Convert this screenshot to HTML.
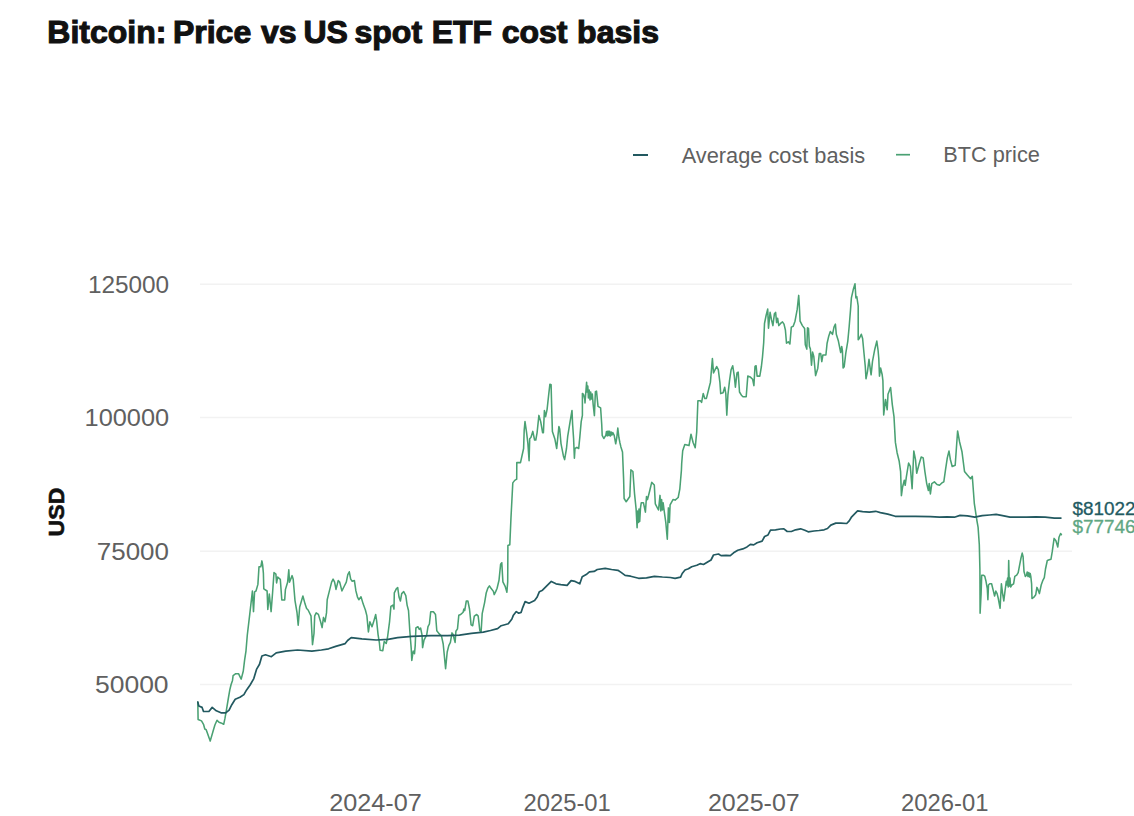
<!DOCTYPE html>
<html><head><meta charset="utf-8"><title>Bitcoin: Price vs US spot ETF cost basis</title>
<style>
html,body{margin:0;padding:0;background:#fff;}
body{width:1134px;height:816px;overflow:hidden;position:relative;font-family:"Liberation Sans",Arial,sans-serif;}
svg{position:absolute;left:0;top:0;display:block;}
text{font-family:"Liberation Sans",Arial,sans-serif;}
</style></head><body>
<svg width="1134" height="816" viewBox="0 0 1134 816">
<rect x="0" y="0" width="1134" height="816" fill="#ffffff"/>
<g font-size="32" font-weight="bold" fill="#111111" stroke="#111111" stroke-width="1.1"><text x="47.3" y="42.9">Bitcoin:</text><text x="172.9" y="42.9">Price</text><text x="261.0" y="42.9">vs</text><text x="303.4" y="42.9">US</text><text x="354.5" y="42.9">spot</text><text x="431.7" y="42.9">ETF</text><text x="501.7" y="42.9">cost</text><text x="577.1" y="42.9">basis</text></g>
<g stroke="#f2f2f2" stroke-width="1.5">
<line x1="200" y1="284.2" x2="1072" y2="284.2"/>
<line x1="200" y1="417.4" x2="1072" y2="417.4"/>
<line x1="200" y1="551.3" x2="1072" y2="551.3"/>
<line x1="200" y1="684.5" x2="1072" y2="684.5"/>
</g>
<text x="87.9" y="293.0" font-size="23.5" textLength="81.28" lengthAdjust="spacingAndGlyphs" fill="#606060">125000</text>
<text x="84.6" y="426.0" font-size="23.5" textLength="84.55" lengthAdjust="spacingAndGlyphs" fill="#606060">100000</text>
<text x="96.8" y="560.0" font-size="23.5" textLength="72.1" lengthAdjust="spacingAndGlyphs" fill="#606060">75000</text>
<text x="94.9" y="693.0" font-size="23.5" textLength="73.74" lengthAdjust="spacingAndGlyphs" fill="#606060">50000</text>
<text x="329.2" y="810.8" font-size="24.2" textLength="92.66" lengthAdjust="spacingAndGlyphs" fill="#606060">2024-07</text>
<text x="523.5" y="810.8" font-size="24.2" textLength="87.36" lengthAdjust="spacingAndGlyphs" fill="#606060">2025-01</text>
<text x="707.9" y="810.8" font-size="24.2" textLength="91.85" lengthAdjust="spacingAndGlyphs" fill="#606060">2025-07</text>
<text x="901.1" y="810.8" font-size="24.2" textLength="87.36" lengthAdjust="spacingAndGlyphs" fill="#606060">2026-01</text>
<text transform="translate(64.0,536.4) rotate(-90)" x="0" y="0" font-size="22.3" font-weight="bold" textLength="48.72" lengthAdjust="spacingAndGlyphs" fill="#111111" stroke="#111111" stroke-width="0.6">USD</text>
<line x1="633" y1="155" x2="648" y2="155" stroke="#225960" stroke-width="2"/>
<text x="681.7" y="162.5" font-size="22" textLength="183.48" lengthAdjust="spacingAndGlyphs" fill="#606060">Average cost basis</text>
<line x1="896" y1="154.7" x2="910" y2="154.7" stroke="#4aa173" stroke-width="1.7"/>
<text x="943.3" y="162.3" font-size="22" textLength="96.58" lengthAdjust="spacingAndGlyphs" fill="#606060">BTC price</text>
<path d="M197.8,702.0 L198.1,719.5 L201.5,720.9 L203.5,724.3 L204.8,729.0 L206.2,729.7 L210.2,741.1 L212.9,731.7 L214.9,725.0 L217.0,720.2 L219.0,722.2 L221.0,722.9 L223.7,724.3 L225.0,718.2 L226.4,710.1 L228.4,698.0 L229.8,689.9 L231.1,684.5 L232.5,680.4 L233.1,675.7 L235.8,673.7 L238.5,673.7 L241.2,679.1 L243.3,671.0 L244.6,660.2 L246.0,650.8 L247.3,635.0 L249.8,613.8 L252.4,591.0 L253.5,611.6 L254.6,591.8 L256.0,591.0 L257.9,584.4 L259.0,566.8 L260.8,566.8 L261.9,560.9 L262.6,564.6 L263.4,573.4 L263.8,588.8 L267.1,591.0 L267.8,609.4 L269.3,594.0 L271.1,611.6 L272.6,592.5 L274.0,572.6 L275.9,574.1 L276.6,582.9 L277.7,577.1 L280.3,579.3 L281.8,599.9 L284.7,599.9 L285.4,589.6 L287.6,582.2 L288.8,569.7 L289.5,582.2 L292.1,575.6 L293.2,579.3 L295.0,600.6 L297.0,612.5 L298.2,625.3 L299.7,607.0 L302.9,596.0 L305.1,604.1 L306.6,608.5 L308.1,610.0 L311.0,615.9 L312.5,644.6 L314.0,633.5 L314.7,615.9 L316.2,612.9 L318.4,614.4 L320.6,621.8 L322.1,627.6 L323.5,617.4 L325.0,621.8 L326.5,612.9 L327.2,599.7 L329.4,590.9 L331.6,582.1 L333.1,579.1 L334.6,582.1 L336.0,589.4 L338.2,580.6 L339.7,582.1 L341.9,590.9 L344.1,586.5 L346.3,582.1 L347.8,574.7 L349.3,571.8 L350.7,579.1 L352.2,581.3 L354.4,580.6 L355.9,590.9 L357.4,596.8 L358.8,599.7 L361.0,596.8 L363.2,604.1 L365.4,610.0 L366.9,615.9 L368.4,632.0 L369.9,621.8 L372.0,626.7 L373.4,622.6 L375.7,614.5 L376.7,621.3 L378.1,634.8 L379.4,642.9 L380.1,650.3 L382.8,650.7 L384.2,641.5 L386.2,643.5 L387.5,637.5 L389.6,621.3 L390.9,606.4 L392.9,605.1 L394.0,609.1 L394.3,592.9 L396.3,588.9 L397.7,587.5 L399.0,597.0 L400.4,601.0 L401.7,593.6 L403.7,591.6 L405.8,595.6 L407.1,605.1 L408.5,610.5 L409.8,630.7 L411.2,648.3 L411.8,660.4 L413.2,651.0 L414.5,653.7 L415.2,645.6 L415.9,628.0 L417.9,626.7 L419.3,629.4 L420.6,628.0 L422.0,634.8 L422.6,647.6 L424.0,640.2 L426.7,634.8 L428.0,626.7 L429.4,624.0 L430.7,611.8 L433.4,611.8 L435.5,614.5 L436.8,630.7 L438.8,633.4 L441.5,636.1 L443.2,644.0 L445.6,668.7 L447.2,652.0 L448.8,645.6 L450.4,642.4 L452.0,632.9 L453.1,634.5 L454.3,639.2 L455.1,642.4 L455.9,631.3 L457.5,628.9 L458.8,615.3 L460.7,614.5 L463.1,612.2 L463.9,609.0 L464.7,610.6 L466.3,601.0 L467.9,601.0 L469.5,609.0 L471.1,624.9 L472.7,625.7 L474.3,616.1 L476.7,614.5 L478.2,616.1 L479.8,630.5 L481.1,632.1 L482.2,613.7 L484.6,602.6 L486.2,593.0 L487.8,588.2 L489.4,585.9 L491.0,588.2 L493.4,591.4 L494.2,594.6 L495.8,591.4 L497.1,588.2 L499.0,580.3 L500.6,564.3 L501.8,562.7 L502.9,581.9 L505.3,586.7 L506.9,592.2 L507.7,581.9 L507.9,545.5 L509.8,544.7 L511.0,517.2 L512.8,482.9 L514.7,480.4 L516.7,479.2 L516.8,462.6 L520.5,462.6 L523.6,448.5 L524.2,430.1 L525.0,421.6 L526.6,432.6 L527.9,443.6 L529.1,460.8 L529.7,438.7 L530.9,437.5 L532.8,431.4 L534.6,440.0 L535.8,440.0 L537.1,432.6 L538.9,415.4 L540.7,421.6 L542.6,432.6 L543.4,432.6 L544.4,410.5 L545.6,416.7 L547.1,409.3 L548.7,394.6 L549.9,384.2 L551.1,384.8 L551.8,411.8 L552.4,431.4 L554.8,438.7 L556.7,448.5 L557.9,436.3 L558.9,426.5 L559.7,428.9 L561.0,443.6 L563.4,455.9 L564.6,459.6 L566.5,448.5 L567.7,436.3 L570.1,421.6 L572.0,410.5 L572.6,424.0 L573.6,438.7 L574.4,458.3 L575.0,448.5 L576.9,447.3 L578.7,448.5 L579.9,436.3 L581.2,421.6 L582.4,415.4 L582.4,393.4 L583.6,394.6 L584.8,399.5 L585.0,403.0 L586.6,382.3 L587.1,392.0 L587.8,386.0 L588.4,398.0 L589.2,390.0 L590.0,400.0 L590.7,392.0 L591.4,399.0 L592.3,394.0 L593.2,405.0 L594.4,415.6 L595.4,391.7 L596.5,391.1 L598.0,406.3 L600.6,407.8 L601.7,424.0 L602.2,435.4 L603.8,438.5 L605.8,435.4 L606.5,431.5 L607.2,436.0 L608.0,431.0 L608.8,435.5 L609.6,431.2 L610.4,436.0 L611.2,432.0 L612.0,435.0 L612.8,432.5 L614.2,435.4 L615.7,443.8 L616.8,437.5 L617.8,428.1 L618.9,437.5 L619.9,442.7 L620.9,446.9 L622.5,452.0 L623.6,478.8 L624.1,498.5 L626.2,501.7 L629.8,496.5 L630.9,469.9 L632.9,471.5 L634.5,493.3 L636.1,509.0 L637.1,527.7 L637.6,511.0 L638.5,522.5 L639.0,509.0 L639.7,521.5 L640.5,507.9 L641.3,502.7 L643.4,502.7 L645.4,512.1 L646.5,496.5 L647.5,499.6 L649.6,491.3 L651.7,482.4 L654.3,485.0 L655.3,503.8 L658.5,510.0 L660.0,495.4 L660.8,511.0 L661.6,499.6 L662.4,510.0 L663.1,502.7 L664.2,511.0 L665.8,522.5 L667.3,539.2 L668.4,507.9 L669.4,522.5 L670.1,504.8 L673.0,499.6 L675.1,500.1 L678.2,497.5 L679.8,489.2 L681.4,470.4 L681.7,463.3 L682.7,450.8 L684.8,444.6 L689.0,445.6 L691.0,434.2 L693.1,442.5 L695.2,447.7 L696.7,432.1 L697.9,400.8 L700.4,400.8 L701.6,402.4 L703.2,393.6 L704.8,398.4 L706.4,398.4 L708.8,388.8 L710.4,382.4 L712.4,358.5 L713.5,372.9 L715.1,369.7 L716.7,366.5 L718.3,369.7 L719.9,382.4 L720.7,393.6 L723.1,392.8 L724.7,387.2 L725.8,393.6 L726.8,415.1 L727.9,395.2 L729.5,380.8 L731.1,369.7 L732.7,365.7 L734.3,376.1 L735.4,387.2 L737.0,372.9 L738.2,372.1 L739.5,392.0 L741.4,395.2 L743.0,396.8 L746.2,396.8 L747.8,376.1 L750.2,376.9 L752.6,379.2 L753.9,385.6 L755.0,366.5 L756.1,365.7 L757.1,376.1 L759.8,376.1 L761.4,366.5 L762.5,356.9 L763.7,342.6 L764.5,323.5 L766.1,315.5 L767.7,309.1 L768.5,328.2 L770.1,312.3 L771.5,319.7 L772.9,325.6 L774.4,313.8 L775.6,312.4 L776.6,322.6 L777.6,318.2 L778.8,325.6 L780.6,323.4 L782.5,321.9 L784.0,324.1 L785.4,330.0 L786.5,343.2 L788.4,341.8 L789.9,344.0 L791.3,327.1 L793.2,326.3 L795.0,321.2 L797.2,309.4 L798.7,295.4 L799.4,306.5 L800.1,321.2 L802.4,325.6 L804.6,328.5 L805.3,344.7 L806.8,349.1 L807.5,327.8 L808.5,328.5 L809.4,346.2 L810.4,349.1 L811.5,365.3 L812.6,352.1 L813.8,356.5 L815.6,375.6 L817.8,368.2 L819.3,353.5 L820.7,353.5 L821.8,361.6 L822.9,355.0 L825.9,355.0 L827.1,343.2 L828.8,335.9 L830.3,331.5 L832.5,334.4 L834.0,327.1 L835.4,324.1 L836.3,334.3 L838.4,341.1 L840.7,352.5 L841.7,346.5 L842.4,350.5 L843.1,368.0 L844.2,366.7 L845.8,353.2 L847.8,341.1 L849.2,326.2 L850.5,310.1 L851.4,297.9 L853.2,289.8 L855.0,283.8 L855.9,297.9 L856.8,296.6 L858.2,306.0 L858.2,339.7 L859.3,338.4 L861.3,334.3 L862.6,338.4 L864.0,353.2 L865.3,366.7 L866.0,378.8 L867.4,372.1 L869.0,359.3 L870.3,369.4 L871.1,374.8 L872.5,361.3 L874.8,349.2 L876.8,341.1 L878.1,350.5 L878.8,358.6 L879.5,376.1 L880.6,368.0 L882.2,374.8 L882.9,380.6 L883.7,414.9 L885.5,399.5 L887.2,409.8 L888.0,394.3 L890.6,387.5 L892.3,404.6 L894.0,416.7 L895.4,442.4 L897.1,452.7 L899.2,461.3 L900.6,471.6 L901.4,495.6 L902.6,487.0 L904.3,480.2 L905.2,485.3 L906.4,476.7 L908.6,463.0 L910.3,466.4 L912.1,488.8 L913.8,451.0 L915.5,459.6 L916.7,473.3 L918.9,464.7 L921.2,457.0 L923.2,457.9 L924.9,471.6 L926.7,483.6 L928.4,490.5 L929.2,483.6 L930.4,493.9 L931.8,483.6 L934.4,481.9 L937.0,484.5 L939.5,485.3 L942.1,482.7 L943.8,481.9 L945.5,469.9 L947.3,457.9 L949.0,451.0 L950.3,459.2 L952.2,466.5 L955.2,465.3 L957.6,431.0 L959.6,442.0 L962.0,451.8 L964.5,471.4 L967.4,475.1 L970.6,478.8 L972.3,476.3 L974.3,503.3 L976.8,520.0 L978.1,527.4 L979.3,544.5 L979.9,569.0 L980.1,613.2 L981.1,593.6 L981.7,575.2 L983.6,575.2 L984.8,576.4 L986.0,581.3 L987.3,588.7 L987.9,599.7 L988.5,585.0 L989.7,583.8 L991.6,583.8 L993.4,591.1 L994.6,596.0 L995.8,591.1 L997.1,593.6 L998.3,598.5 L1000.1,608.3 L1001.4,583.8 L1002.6,593.6 L1003.8,600.9 L1005.0,591.1 L1006.3,581.3 L1007.0,585.0 L1007.6,578.0 L1008.2,587.0 L1008.7,560.5 L1009.3,586.0 L1010.0,578.0 L1010.6,587.0 L1011.8,585.0 L1013.6,583.8 L1014.8,576.4 L1016.7,575.2 L1018.2,572.7 L1019.8,564.1 L1021.0,558.0 L1022.2,553.1 L1023.1,556.8 L1024.0,571.5 L1025.3,576.4 L1026.5,575.2 L1027.2,572.0 L1028.0,576.5 L1028.8,572.5 L1029.6,577.0 L1030.2,573.5 L1030.8,576.4 L1031.6,583.8 L1032.0,598.5 L1033.9,597.2 L1035.7,594.8 L1036.9,587.4 L1038.1,589.9 L1039.4,593.6 L1041.2,585.0 L1043.0,580.1 L1044.3,577.6 L1045.5,569.0 L1047.3,560.5 L1049.2,559.8 L1051.0,559.2 L1052.2,551.9 L1054.1,538.4 L1055.9,540.8 L1057.8,547.0 L1059.0,537.2 L1060.6,533.5 L1061.4,534.7" fill="none" stroke="#4aa173" stroke-width="1.55" stroke-linejoin="round" stroke-linecap="round"/>
<path d="M197.8,702.0 L198.8,706.0 L202.1,707.4 L203.5,711.5 L208.9,711.5 L212.2,707.4 L216.3,710.8 L221.0,712.8 L225.7,712.8 L229.1,710.1 L231.8,704.7 L235.2,699.3 L239.9,697.3 L243.9,694.6 L246.6,689.9 L250.1,685.0 L253.8,678.6 L256.5,669.4 L259.5,664.3 L261.9,656.0 L265.5,654.8 L271.4,656.7 L276.2,652.9 L285.7,651.2 L297.6,650.0 L311.9,651.2 L321.4,650.0 L328.6,648.8 L335.7,646.4 L345.2,643.6 L347.6,640.5 L351.2,637.6 L361.9,638.8 L376.2,640.0 L388.1,639.3 L397.6,637.6 L411.9,636.4 L431.0,635.7 L447.6,635.7 L459.5,635.2 L471.4,633.3 L483.3,632.1 L490.5,630.5 L497.6,628.6 L501.2,625.7 L508.3,623.8 L511.9,619.0 L513.2,615.6 L516.3,611.6 L518.7,613.2 L521.1,612.4 L522.7,607.6 L525.1,601.6 L529.0,603.2 L534.6,600.5 L537.0,597.3 L539.4,591.7 L542.5,590.2 L546.5,586.2 L551.3,581.4 L556.0,583.8 L560.8,584.6 L567.1,585.4 L571.1,580.6 L575.1,581.4 L579.8,583.8 L582.2,576.7 L586.2,574.6 L589.4,571.9 L594.1,571.4 L597.3,569.5 L605.2,568.3 L611.6,569.5 L617.9,570.3 L621.1,572.4 L625.1,575.4 L630.6,576.2 L638.6,578.3 L646.5,577.8 L654.4,576.3 L662.4,577.0 L670.3,577.5 L675.1,578.3 L680.6,577.1 L682.2,573.5 L685.0,570.0 L688.4,568.7 L691.7,566.7 L696.8,565.3 L700.1,563.7 L703.5,564.5 L707.6,562.0 L711.0,560.0 L713.5,555.0 L718.5,554.0 L721.0,555.6 L726.1,555.3 L730.3,555.6 L733.6,552.8 L737.8,550.3 L742.8,548.9 L747.0,546.9 L750.4,544.4 L753.7,544.9 L757.1,542.7 L762.1,541.1 L764.6,536.5 L768.0,534.9 L770.5,530.2 L775.5,529.8 L780.5,529.0 L783.9,528.8 L787.2,531.5 L791.4,531.5 L795.6,529.8 L800.6,528.8 L804.8,530.2 L808.2,531.8 L814.0,531.0 L819.1,530.5 L824.1,529.8 L827.5,528.5 L830.8,525.1 L835.8,523.1 L840.9,523.1 L846.7,523.5 L849.2,520.9 L851.7,516.8 L855.1,513.4 L857.6,510.9 L862.6,511.7 L869.3,512.2 L875.7,511.3 L880.4,512.6 L887.8,514.1 L895.2,516.3 L915.6,516.3 L930.4,516.7 L939.6,517.2 L947.0,516.9 L954.4,517.2 L960.0,515.4 L967.4,515.9 L974.8,517.2 L982.2,515.7 L989.6,515.0 L996.1,514.4 L1002.6,515.7 L1010.0,517.2 L1017.4,517.2 L1026.7,517.2 L1035.9,516.9 L1045.2,517.2 L1054.4,518.1 L1060.9,518.1" fill="none" stroke="#225960" stroke-width="1.7" stroke-linejoin="round" stroke-linecap="round"/>
<text x="1072.4" y="514.6" font-size="18.5" textLength="63" lengthAdjust="spacingAndGlyphs" fill="#225a62" stroke="#225a62" stroke-width="0.3">$81022</text>
<text x="1072.4" y="532.6" font-size="18.5" textLength="63" lengthAdjust="spacingAndGlyphs" fill="#5fa783" stroke="#5fa783" stroke-width="0.3">$77746</text>
</svg>
</body></html>
